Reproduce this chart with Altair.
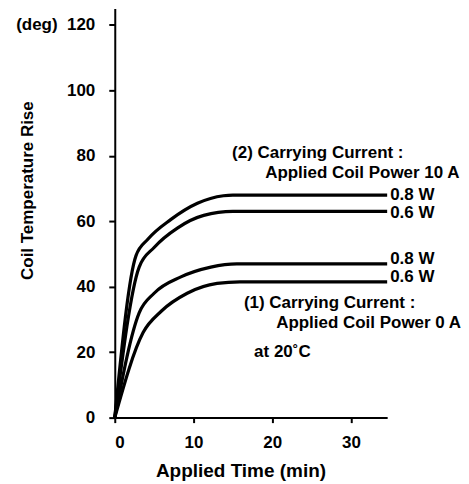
import altair as alt
import pandas as pd

# Curves (time in min, temperature rise in deg)
t_10a_08 = [0, 2.7, 4.2, 7.1, 10.5, 13.8, 15.0, 34.6]
y_10a_08 = [0, 49.5, 54.5, 60.5, 65.5, 67.8, 68.0, 68.0]
t_10a_06 = [0, 3.1, 5.0, 8.0, 11.3, 15.0, 34.6]
y_10a_06 = [0, 46.0, 52.0, 58.0, 61.8, 63.0, 63.0]
t_0a_08 = [0, 3.1, 5.0, 8.4, 12.2, 15.5, 34.6]
y_0a_08 = [0, 32.0, 38.0, 43.0, 46.0, 47.0, 47.0]
t_0a_06 = [0, 3.6, 5.9, 9.2, 13.0, 15.9, 34.6]
y_0a_06 = [0, 26.0, 32.5, 38.0, 41.0, 41.5, 41.5]

series = [("10A 0.8W", t_10a_08, y_10a_08), ("10A 0.6W", t_10a_06, y_10a_06),
          ("0A 0.8W", t_0a_08, y_0a_08), ("0A 0.6W", t_0a_06, y_0a_06)]
rows = []
for name, ts, ys in series:
    for i, (t, y) in enumerate(zip(ts, ys)):
        rows.append({"series": name, "t": t, "y": y, "order": i})
df = pd.DataFrame(rows)

# End-of-line labels
w_labels = ["0.8 W", "0.6 W", "0.8 W", "0.6 W"]
w_x = [34.6, 34.6, 34.6, 34.6]
w_y = [68.0, 62.6, 48.6, 43.0]
wdf = pd.DataFrame({"label": w_labels, "t": w_x, "y": w_y})

# Annotation texts
ann_text = ["(2) Carrying Current :", "Applied Coil Power 10 A",
            "(1) Carrying Current :", "Applied Coil Power 0 A", "at 20˚C"]
ann_x = [14.9, 19.1, 16.4, 20.5, 17.7]
ann_y = [80.8, 74.7, 35.0, 29.0, 20.1]
adf = pd.DataFrame({"label": ann_text, "t": ann_x, "y": ann_y})

FONT = "Liberation Sans"
W = "bold"

xs = alt.Scale(domain=[0, 34.6], nice=False, zero=False)
ys_ = alt.Scale(domain=[0, 125], nice=False)

lines = alt.Chart(df).mark_line(color="black", strokeWidth=3.2, interpolate="monotone").encode(
    x=alt.X("t:Q", scale=xs, axis=alt.Axis(
        values=[0, 10, 20, 30], title="Applied Time (min)", grid=False,
        domainColor="black", domainWidth=2, tickColor="black", tickWidth=2, tickSize=5,
        labelFont=FONT, labelFontSize=17, labelFontWeight=W, labelColor="black", labelPadding=12,
        titleFont=FONT, titleFontSize=19, titleFontWeight=W, titleColor="black",
        titleX=126, titleY=53, titleBaseline="middle", titleAnchor="start", titleAlign="center")),
    y=alt.Y("y:Q", scale=ys_, axis=alt.Axis(
        values=[0, 20, 40, 60, 80, 100, 120], title="Coil Temperature Rise", grid=False,
        labelExpr="datum.value == 120 ? '(deg)\u00a0\u00a0120' : datum.label",
        domainColor="black", domainWidth=2, tickColor="black", tickWidth=2, tickSize=6,
        labelFont=FONT, labelFontSize=17, labelFontWeight=W, labelColor="black", labelPadding=14,
        titleFont=FONT, titleFontSize=17, titleFontWeight=W, titleColor="black",
        titleX=-87, titleY=182, titleBaseline="middle", titleAngle=-90, titleAlign="center")),
    detail="series:N",
    order="order:Q",
)

wtext = alt.Chart(wdf).mark_text(align="left", baseline="middle", dx=3, font=FONT,
                                 fontSize=17, fontWeight=W, color="black").encode(
    x=alt.X("t:Q", scale=xs), y=alt.Y("y:Q", scale=ys_), text="label:N")

atext = alt.Chart(adf).mark_text(align="left", baseline="middle", font=FONT,
                                 fontSize=17, fontWeight=W, color="black").encode(
    x=alt.X("t:Q", scale=xs), y=alt.Y("y:Q", scale=ys_), text="label:N")

chart = alt.layer(lines, wtext, atext).properties(
    width=273, height=410,
    autosize=alt.AutoSizeParams(type="none"),
    padding={"left": 107, "top": 0, "right": 74, "bottom": 68},
    background="white",
).configure_view(stroke=None)

chart.save("out.html", embed_options={"renderer": "svg", "actions": False})
